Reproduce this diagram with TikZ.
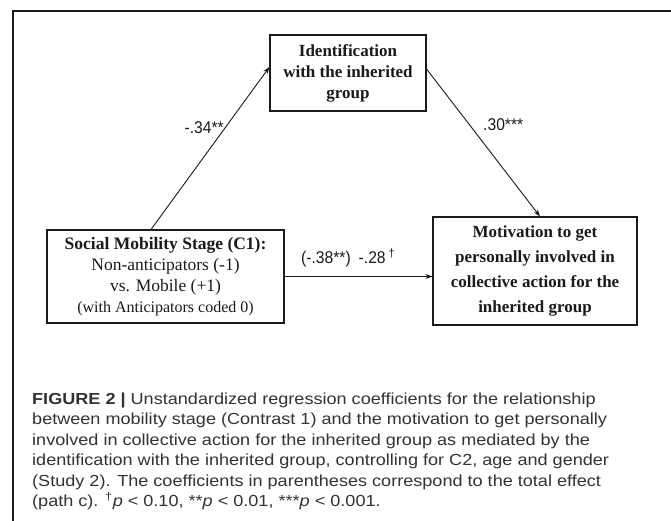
\documentclass[tikz,border=0pt]{standalone}
\usepackage{fontspec}
\setmainfont{Liberation Serif}
\newfontfamily\capfont[FakeStretch=1.13]{Liberation Sans}
\newfontfamily\coeffont[FakeStretch=0.92]{Liberation Sans}
\usetikzlibrary{arrows.meta,calc}
\definecolor{capgrey}{HTML}{333333}
\definecolor{ink}{HTML}{1A1A1A}
\tikzset{
  box/.style={draw=ink, line width=1.1pt, inner sep=0pt, align=center, text=ink},
  arr/.style={draw=ink, line width=0.9pt, -{Stealth[length=7pt,width=5pt]}},
  coef/.style={inner sep=0pt, text=ink, font=\coeffont\fontsize{17}{19}\selectfont},
  capline/.style={inner sep=0pt, anchor=base west, text=capgrey, font=\capfont\fontsize{16}{20.5}\selectfont}
}
\begin{document}
\begin{tikzpicture}[x=1pt,y=-1pt]
\useasboundingbox (0,0) rectangle (671,521);
\fill[white] (0,0) rectangle (671,521);
\draw[ink, line width=1.1pt] (671,11) -- (13,11) -- (13,521);

\node[box, minimum width=156pt, minimum height=76pt,
      font=\bfseries\fontsize{17}{21}\selectfont] (ident) at (348,73)
  {Identification\\with the inherited\\group};

\node[box, minimum width=237pt, minimum height=93pt,
      font=\fontsize{17.5}{21}\selectfont] (left) at (165.5,276.5)
  {\textbf{Social Mobility Stage (C1):}\\
   Non-anticipators (-1)\\
   vs. Mobile (+1)\\
   {\fontsize{16}{21}\selectfont (with Anticipators coded 0)}};

\node[box, minimum width=204pt, minimum height=108pt,
      font=\bfseries\fontsize{17}{25}\selectfont] (motiv) at (535,271)
  {Motivation to get\\personally involved in\\collective action for the\\inherited group};

\draw[arr] ([xshift=-14.5pt]left.north) -- ([yshift=6pt]ident.west);
\draw[arr] ([yshift=4pt]ident.east) -- ([xshift=5pt]motiv.north);
\draw[arr] (left.east) -- (left.east -| motiv.west);

\node[coef, anchor=east] (la) at (224,128) {-.34**};
\node[coef, anchor=west] (lb) at (483,125) {.30***};
\node[coef, anchor=west] (lc) at (301,258) {(-.38**)\hspace{8pt}-.28\,\textsuperscript{†}};

\node[capline] (c1) at (32,404) {\textbf{FIGURE 2 |} Unstandardized regression coefficients for the relationship};
\node[capline] (c2) at (32,424.5) {between mobility stage (Contrast 1) and the motivation to get personally};
\node[capline] (c3) at (32,445) {involved in collective action for the inherited group as mediated by the};
\node[capline] (c4) at (32,465.5) {identification with the inherited group, controlling for C2, age and gender};
\node[capline] (c5) at (32,486) {(Study 2). The coefficients in parentheses correspond to the total effect};
\node[capline] (c6) at (32,506.5) {(path c). \textsuperscript{†}\textit{p} < 0.10, **\textit{p} < 0.01, ***\textit{p} < 0.001.};
\end{tikzpicture}
\end{document}
